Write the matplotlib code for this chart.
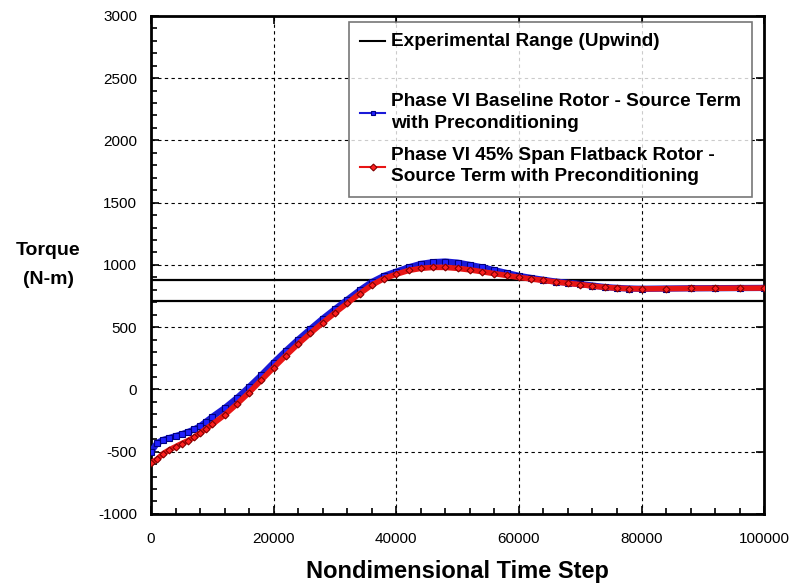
import numpy as np
import matplotlib.pyplot as plt
from matplotlib.lines import Line2D
from matplotlib.ticker import MultipleLocator

plt.rcParams['font.family'] = ['Liberation Sans', 'DejaVu Sans']
plt.rcParams['axes.unicode_minus'] = False

# Nondimensional time step
steps = [0, 1000, 2000, 3000, 4000, 5000, 6000, 7000, 8000, 9000, 10000,
         12000, 14000, 16000, 18000, 20000, 22000, 24000, 26000, 28000, 30000,
         32000, 34000, 36000, 38000, 40000, 42000, 44000, 46000, 48000, 50000,
         52000, 54000, 56000, 58000, 60000, 62000, 64000, 66000, 68000, 70000,
         72000, 74000, 76000, 78000, 80000, 84000, 88000, 92000, 96000, 100000]

baseline = [-500, -430, -405, -390, -375, -360, -342, -322, -295, -258, -220,
            -150, -70, 20, 115, 215, 310, 400, 485, 568, 645,
            720, 795, 862, 912, 946, 980, 1008, 1022, 1027, 1018,
            1000, 980, 958, 935, 912, 895, 880, 866, 856, 846,
            834, 822, 815, 810, 808, 810, 812, 813, 814, 815]

flatback = [-590, -560, -515, -485, -460, -435, -412, -385, -352, -315, -280,
            -205, -118, -25, 75, 175, 272, 365, 452, 535, 615,
            692, 768, 838, 890, 925, 955, 972, 980, 980, 972,
            960, 945, 930, 915, 900, 887, 875, 863, 852, 842,
            830, 820, 813, 809, 807, 809, 811, 812, 813, 814]

exp_low = 710
exp_high = 880

fig, ax = plt.subplots(figsize=(7.91, 5.88), dpi=100)
fig.subplots_adjust(left=0.191, right=0.966, top=0.973, bottom=0.126)

ax.axhline(exp_high, color='black', lw=1.6, zorder=2,
           label='Experimental Range (Upwind)')
ax.axhline(exp_low, color='black', lw=1.6, zorder=2)

ax.plot(steps, baseline, color='#1a1ad8', lw=4.5, marker='s', ms=4,
        mfc='#2020ff', mec='#000080', mew=0.8, zorder=3,
        label='Phase VI Baseline Rotor - Source Term\nwith Preconditioning')
ax.plot(steps, flatback, color='#e81515', lw=4.0, marker='D', ms=3.5,
        mfc='#ff2020', mec='#800000', mew=0.8, zorder=4,
        label='Phase VI 45% Span Flatback Rotor -\nSource Term with Preconditioning')

ax.set_xlim(0, 100000)
ax.set_ylim(-1000, 3000)
ax.xaxis.set_major_locator(MultipleLocator(20000))
ax.xaxis.set_minor_locator(MultipleLocator(4000))
ax.yaxis.set_major_locator(MultipleLocator(500))
ax.yaxis.set_minor_locator(MultipleLocator(100))
ax.tick_params(which='major', direction='in', top=True, right=True, labelsize=11,
               length=6, width=1.2)
ax.tick_params(which='minor', direction='in', top=False, right=False,
               length=4, width=1.2)
ax.tick_params(axis='y', which='major', pad=10)
ax.tick_params(axis='x', which='major', pad=13)
ax.grid(True, which='major', color='black', ls=(0, (3, 3)), lw=0.8)
for s in ax.spines.values():
    s.set_linewidth(2)

ax.set_xlabel('Nondimensional Time Step', fontsize=17, fontweight='bold', labelpad=10)
ax.set_ylabel('Torque\n(N-m)', fontsize=14, fontweight='bold', rotation=0,
              labelpad=36, va='center', linespacing=1.9)

# legend with a short blank row after the first entry
handles, labels = ax.get_legend_handles_labels()
blank = Line2D([], [], color='none')
handles = [handles[0], blank] + handles[1:]
labels = [labels[0], ' '] + labels[1:]
leg = ax.legend(handles, labels, loc='upper right', bbox_to_anchor=(0.99, 0.999),
                prop={'size': 13.7, 'weight': 'bold'}, frameon=True,
                fancybox=False, edgecolor='#555555',
                labelspacing=0.8, handlelength=1.3, handleheight=0.3,
                handletextpad=0.3, borderpad=0.6, borderaxespad=0.3)
for t in leg.get_texts():
    t.set_linespacing(1.35)
leg.get_texts()[1].set_fontsize(3)
leg.get_frame().set_linewidth(1.2)
for h in leg.legend_handles:
    h.set_linewidth(1.5)
    h.set_markersize(3.5)

plt.savefig('out.png', dpi=100)
